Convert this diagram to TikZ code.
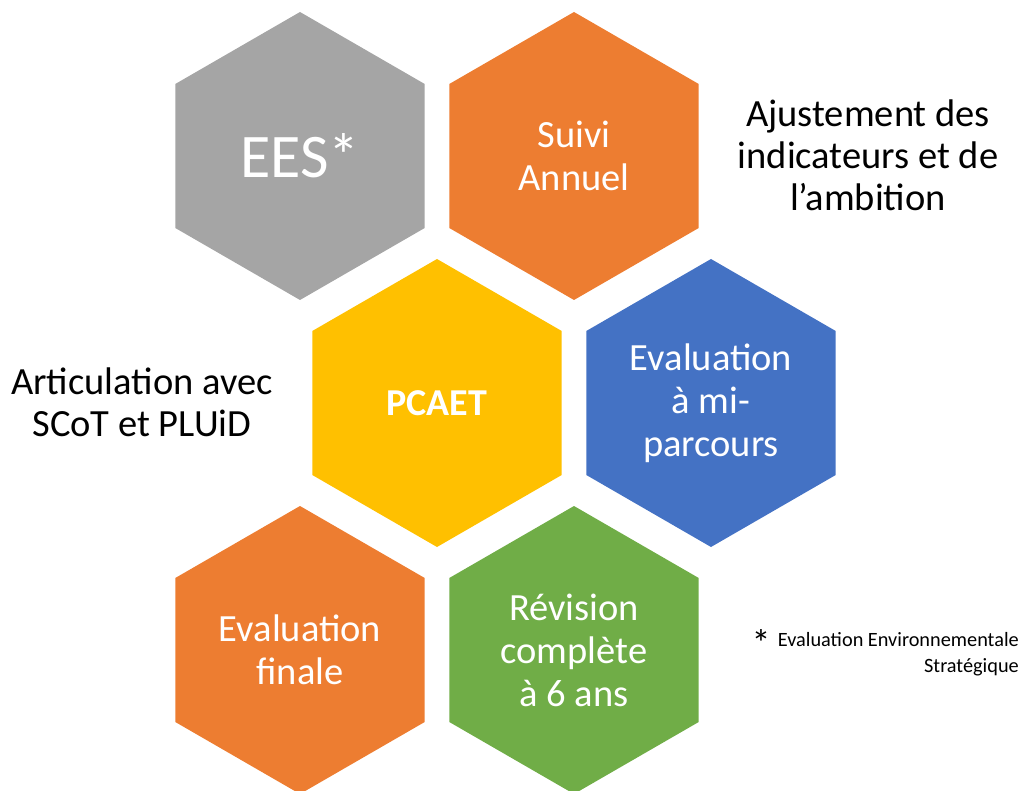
\documentclass[tikz,border=0pt]{standalone}
\usepackage{fontspec}
\setmainfont{Carlito}
\usepackage{xcolor}
\usetikzlibrary{shapes.geometric}

\definecolor{hexgray}{HTML}{A5A5A5}
\definecolor{hexorange}{HTML}{ED7D31}
\definecolor{hexyellow}{HTML}{FFC000}
\definecolor{hexblue}{HTML}{4472C4}
\definecolor{hexgreen}{HTML}{70AD47}

\tikzset{
    hexcell/.style={regular polygon, regular polygon sides=6, shape border rotate=30,
        minimum size=288pt, inner sep=0pt, text=white, align=center,
        font=\fontsize{38.5}{43}\selectfont},
    sidetext/.style={align=center, font=\fontsize{38.5}{42}\selectfont}
}

\begin{document}
\begin{tikzpicture}[x=1pt, y=-1pt]
    \useasboundingbox (0,0) rectangle (1028,791);
    \def\dx{274} % column step
    \def\dy{247} % row step

    % honeycomb
    \node[hexcell, fill=hexgray, font=\fontsize{62}{66}\selectfont] (ees) at (300, 156) {EES*};
    \node[hexcell, fill=hexorange] (suivi) at (300+\dx, 156) {Suivi\\Annuel};
    \node[hexcell, fill=hexyellow, font=\fontsize{38}{43}\selectfont\bfseries] (pcaet) at (300+.5*\dx, 156+\dy) {PCAET};
    \node[hexcell, fill=hexblue] (mi) at (300+1.5*\dx, 156+\dy) {Evaluation\\à mi-\\parcours};
    \node[hexcell, fill=hexorange] (finale) at (300, 156+2*\dy) {Evaluation\\finale};
    \node[hexcell, fill=hexgreen] (revision) at (300+\dx, 156+2*\dy) {Révision\\complète\\à 6 ans};

    % side texts
    \node[sidetext] (ajust) at (868, 155) {Ajustement des\\indicateurs et de\\l’ambition};
    \node[sidetext] (artic) at (142, 402) {Articulation avec\\SCoT et PLUiD};

    % footnote
    \node[font=\fontsize{38}{40}\selectfont, inner sep=0pt] (star) at (761, 643) {*};
    \node[anchor=north east, align=right, inner sep=0pt, font=\fontsize{20.3}{26}\selectfont] (note) at (1019, 632) {Evaluation Environnementale\\Stratégique};
\end{tikzpicture}
\end{document}
